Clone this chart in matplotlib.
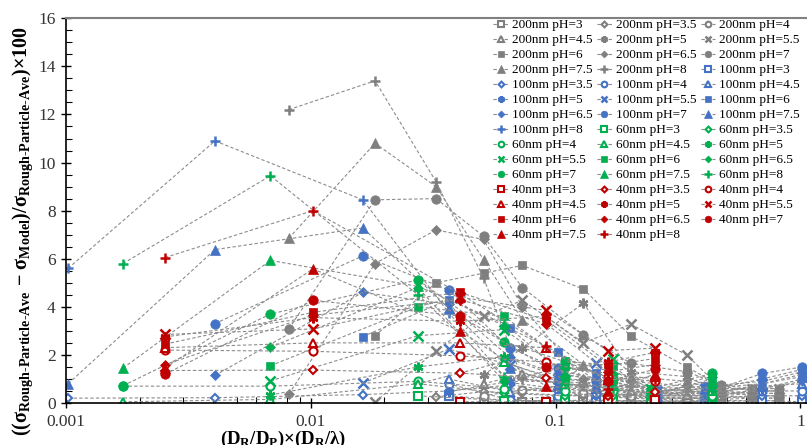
import numpy as np
import matplotlib
matplotlib.use("Agg")
import matplotlib.pyplot as plt
from matplotlib.ticker import LogLocator, NullFormatter, MultipleLocator

plt.rcParams['font.family'] = ['Liberation Serif', 'DejaVu Serif']
plt.rcParams['mathtext.fontset'] = 'custom'
plt.rcParams['mathtext.rm'] = 'Liberation Serif'
plt.rcParams['mathtext.it'] = 'Liberation Serif:italic'
plt.rcParams['mathtext.bf'] = 'Liberation Serif:bold'

# pH values of the series (same order for every particle size)
ph_values = ["3", "3.5", "4", "4.5", "5", "5.5", "6", "6.5", "7", "7.5", "8"]

# x = (D_R/D_P)x(D_R/lambda) columns per particle size
x_200nm = [0.00813, 0.0183, 0.0325, 0.0508, 0.0732, 0.130, 0.203, 0.343, 0.476, 0.637, 0.82]
x_100nm = [0.00102, 0.00406, 0.0163, 0.0366, 0.065, 0.102, 0.146, 0.26, 0.406, 0.70, 1.02]
x_60nm = [0.00171, 0.00684, 0.0274, 0.0616, 0.109, 0.171, 0.246, 0.437]
x_40nm = [0.00254, 0.0102, 0.0406, 0.0914, 0.163, 0.254]

# y values, one row per pH (3 ... 8), None = no point
y_200nm = [
    [None, None, None, 0.05, 0.05, 0.12, 0.10, 0.05, 0.10, 0.10, 0.10],
    [None, None, 0.26, 0.47, 0.40, 0.30, 0.20, 0.10, 0.15, 0.20, 0.20],
    [None, None, None, 0.30, 0.55, 0.40, 0.30, 0.20, 0.20, 0.30, 0.30],
    [None, None, None, 0.80, 1.20, 0.90, 0.50, 0.35, 0.30, 0.40, 0.40],
    [None, None, None, 1.17, 2.28, 4.15, 1.30, 1.10, 0.40, 0.50, 0.50],
    [None, 0.04, 2.18, 3.62, 4.27, 2.50, 3.28, 2.00, 0.60, 0.60, 0.60],
    [None, 2.80, 5.00, 5.40, 5.72, 4.74, 2.78, 1.50, 0.70, 0.50, 0.50],
    [0.37, 5.80, 7.20, 6.80, 4.00, 1.00, 0.90, 0.70, 0.50, 0.40, 0.40],
    [3.08, 8.45, 8.50, 6.93, 4.80, 2.83, 1.65, 1.30, 0.75, 0.60, 0.60],
    [6.85, 10.8, 9.00, 5.96, 3.46, 1.60, 1.10, 0.90, 0.50, 0.30, 0.30],
    [12.2, 13.4, 9.20, 5.20, 1.00, 0.70, 0.70, 0.50, 0.30, 0.20, 0.20],
]
y_100nm = [
    [None, None, None, 0.30, 0.10, 0.10, 0.05, 0.10, 0.05, 0.10, 0.05],
    [0.20, 0.22, 0.35, 0.50, 0.75, 0.50, 0.30, 0.20, 0.20, 0.30, 0.30],
    [None, None, None, 0.80, 0.12, 0.30, 0.40, 0.30, 0.30, 0.50, 0.50],
    [None, None, None, 1.00, 0.47, 0.70, 0.60, 0.40, 0.40, 0.70, 0.80],
    [None, None, None, 0.47, 0.90, 0.90, 0.80, 0.30, 0.50, 0.60, 1.00],
    [None, None, 0.83, 2.24, 1.60, 1.00, 1.65, 0.50, 0.60, 0.80, 1.10],
    [None, None, 2.76, 4.30, 3.10, 2.10, 1.24, 0.60, 0.69, 0.90, 1.30],
    [None, 1.15, 4.60, 4.10, 1.90, 1.20, 1.00, 0.50, 0.50, 1.00, 1.40],
    [None, 3.30, 6.12, 4.70, 2.28, 1.45, 0.90, 0.40, 0.40, 1.23, 1.50],
    [0.80, 6.38, 7.28, 3.95, 1.45, 0.80, 0.70, 0.30, 0.30, 0.80, 1.20],
    [5.60, 10.9, 8.45, 3.75, 0.85, 0.60, 0.50, 0.20, 0.20, 0.60, 0.90],
]
y_60nm = [
    [None, None, 0.30, 0.10, 0.10, 0.10, 0.05, 0.10],
    [None, None, 0.80, 0.40, 0.30, 0.30, 0.20, 0.20],
    [0.70, 0.70, 0.90, 0.60, 0.50, 0.50, 0.30, 0.30],
    [0.05, 0.15, 0.80, 1.72, 0.80, 0.70, 0.40, 0.50],
    [None, 0.33, 1.50, 1.93, 1.00, 0.90, 0.50, 0.60],
    [None, 0.92, 2.80, 3.05, 1.30, 1.85, 0.60, 0.05],
    [None, 1.55, 4.00, 3.60, 1.75, 1.55, 0.30, 1.00],
    [None, 2.32, 4.80, 0.90, 1.50, 1.20, 0.50, 1.10],
    [0.72, 3.70, 5.12, 2.55, 1.72, 1.00, 0.60, 1.23],
    [1.45, 5.93, 4.85, 3.30, 1.20, 0.80, 0.40, 0.90],
    [5.80, 9.45, 4.50, 1.10, 0.80, 0.60, 0.20, 0.70],
]
y_40nm = [
    [None, None, 0.05, 0.05, 0.05, 0.12],
    [1.35, 1.37, 1.24, 1.05, 0.30, 0.47],
    [2.20, 2.15, 1.96, 1.70, 1.10, 0.90],
    [2.30, 2.50, 2.50, 2.30, 0.95, 1.10],
    [2.75, 3.55, 3.40, 3.60, 1.70, 2.10],
    [2.85, 3.08, 4.40, 3.85, 2.18, 2.28],
    [2.45, 3.77, 4.60, 3.45, 1.55, 1.85],
    [1.60, 3.65, 4.30, 3.30, 1.30, 1.60],
    [1.20, 4.27, 3.62, 1.50, 0.90, 1.40],
    [1.45, 5.58, 3.00, 0.70, 0.50, 1.20],
    [6.05, 8.00, 4.55, 2.35, 0.60, 1.00],
]

sizes = ["200nm", "100nm", "60nm", "40nm"]
x_cols = [x_200nm, x_100nm, x_60nm, x_40nm]
y_rows = [y_200nm, y_100nm, y_60nm, y_40nm]
colors = ["#7F7F7F", "#4472C4", "#00B050", "#C00000"]

# marker, size, hollow
marker_styles = [
    ("s", 5.5, True), ("D", 4.2, True), ("o", 5.8, True), ("^", 6.0, True),
    ((6, 2, 0), 7.0, False), ("x", 6.5, False), ("s", 6.0, False),
    ("D", 5.0, False), ("o", 6.8, False), ("^", 7.5, False), ("+", 7.5, False),
]

fig = plt.figure(figsize=(8.07, 4.45), dpi=100)
ax = fig.add_axes([0.0818, 0.0944, 0.934, 0.8645])

handles = []
for size, xs, rows, col in zip(sizes, x_cols, y_rows, colors):
    for ph, ys, (mk, ms, hollow) in zip(ph_values, rows, marker_styles):
        px = [x for x, y in zip(xs, ys) if y is not None]
        py = [y for y in ys if y is not None]
        h, = ax.plot(px, py, color="#8C8C8C", lw=0.8, ls=(0, (3, 2)),
                     marker=mk, ms=ms, mec=col,
                     mfc="white" if hollow else col,
                     mew=1.5 if hollow else (1.8 if mk in ("x", "+", (6, 2, 0)) else 0.5),
                     label=f"{size} pH={ph}")
        handles.append(h)

ax.set_xscale("log")
ax.set_xlim(0.001, 1.2)
ax.set_ylim(0, 16)

ax.xaxis.set_minor_locator(LogLocator(base=10, subs=np.arange(2, 10), numticks=20))
ax.xaxis.set_minor_formatter(NullFormatter())
ax.set_xticks([0.001, 0.01, 0.1, 1])
ax.set_xticklabels(["0.001", "0.01", "0.1", "1"])
ax.yaxis.set_major_locator(MultipleLocator(2))
ax.yaxis.set_minor_locator(MultipleLocator(0.5))

ax.tick_params(which="major", direction="inout", length=7, width=1, labelsize=12.5,
               labelcolor="#333333")
ax.tick_params(axis="x", which="major", pad=4.5)
ax.tick_params(axis="y", which="major", pad=4)
ax.tick_params(which="minor", direction="in", length=4, width=0.8)

for side in ("left", "bottom"):
    ax.spines[side].set_color("black")
    ax.spines[side].set_linewidth(1.2)
ax.spines["top"].set_color("#808080")
ax.spines["top"].set_linewidth(1.5)
ax.spines["right"].set_visible(False)

# legend filled row by row, 3 columns
order = [r * 3 + c for c in range(3) for r in range(15) if r * 3 + c < len(handles)]
leg = ax.legend([handles[i] for i in order], [handles[i].get_label() for i in order],
                ncol=3, loc="upper left", bbox_to_anchor=(0.567, 0.998), frameon=False,
                fontsize=9.5, handlelength=1.1, handletextpad=0.3, columnspacing=0.35,
                labelspacing=0.21, markerscale=0.7, borderaxespad=0, borderpad=0)

fig.text(23 / 807, 1 - 231 / 445,
         r"$\mathbf{((σ_{Rough‐Particle‐Ave}\,-\,σ_{Model})/σ_{Rough‐Particle‐Ave})×100}$",
         rotation=90, ha="center", va="center", fontsize=14.5)
fig.text(283 / 807, 1 - 444 / 445, r"$\mathbf{(D_R/D_P)×(D_R/λ)}$",
         ha="center", va="baseline", fontsize=13.5)

fig.savefig("out.png", dpi=100)
